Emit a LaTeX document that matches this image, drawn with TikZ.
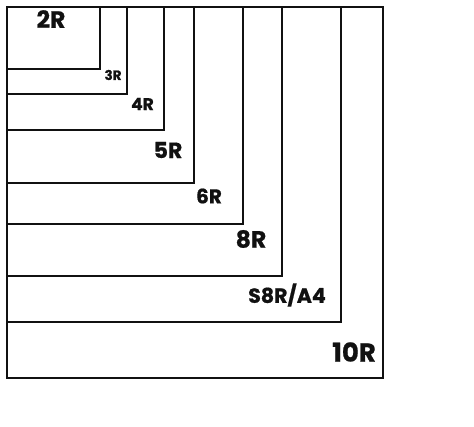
\documentclass[tikz,border=0pt]{standalone}
\usepackage{fontspec}
\setmainfont{Poppins}[BoldFont={* Bold}]
\newfontfamily\heavy{Poppins Bold}[FakeBold=0.8]
\usetikzlibrary{positioning}
\definecolor{cInk}{HTML}{111111}

\begin{document}
\begin{tikzpicture}[x=1pt,y=-1pt,line width=1.7pt,
      frame/.style={draw=cInk},
      size/.style={text=cInk,inner sep=0pt,anchor=center}]
    \useasboundingbox (0,0) rectangle (474,427);
    % print sizes, all from the same corner
    \foreach \r/\b in {100/69,127/94,164/130,194/183,243/224,282/276,341/322,383/378}
      \draw[frame] (7,7) rectangle (\r,\b);

    \node[size,font=\heavy\fontsize{23.5}{24}\selectfont] (r2)  at (51,19)    {2R};
    \node[size,font=\heavy\fontsize{13.5}{14}\selectfont] (r3)  at (113,75)   {3R};
    \node[size,font=\heavy\fontsize{17}{17}\selectfont]   (r4)  at (142.5,104){4R};
    \node[size,font=\heavy\fontsize{22}{22}\selectfont]   (r5)  at (168,150)  {5R};
    \node[size,font=\heavy\fontsize{20}{20}\selectfont]   (r6)  at (209,196)  {6R};
    \node[size,font=\heavy\fontsize{23.5}{24}\selectfont] (r8)  at (251,239)  {8R};
    \node[size,font=\heavy\fontsize{20.5}{21}\selectfont] (s8)  at (287,295)  {S8R/A4};
    \node[size,font=\heavy\fontsize{26}{26}\selectfont]   (r10) at (354,352)  {10R};
  \end{tikzpicture}
\end{document}
